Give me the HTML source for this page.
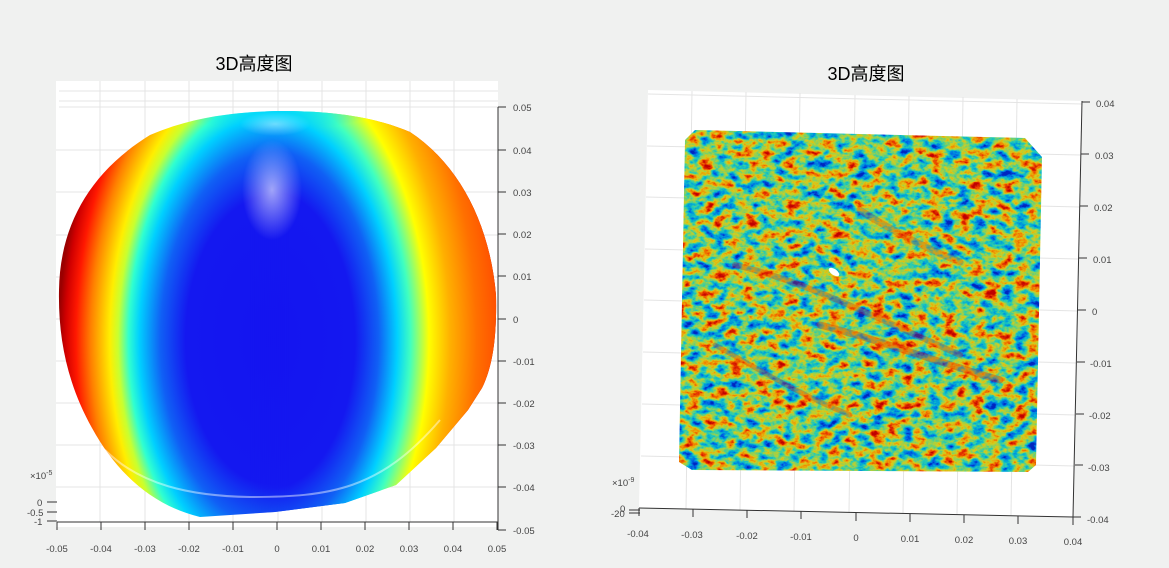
<!DOCTYPE html>
<html><head><meta charset="utf-8"><style>
html,body{margin:0;padding:0;background:#f0f1f0;width:1169px;height:568px;overflow:hidden}
svg{display:block}
text{font-family:"Liberation Sans","Noto Sans CJK SC",sans-serif;fill:#333}
.t{font-size:9.5px;fill:#444}
.title{font-size:18px;fill:#000}
</style></head><body>
<svg width="1169" height="568" viewBox="0 0 1169 568" xmlns="http://www.w3.org/2000/svg">
<defs>
<radialGradient id="gL" gradientUnits="userSpaceOnUse" cx="270" cy="340" r="211" gradientTransform="translate(270 340) scale(1 1.7) translate(-270 -340)">
<stop offset="0" stop-color="#1414f0"/>
<stop offset="0.4" stop-color="#1418f0"/>
<stop offset="0.52" stop-color="#1060f5"/>
<stop offset="0.62" stop-color="#00d0ff"/>
<stop offset="0.67" stop-color="#30ffd0"/>
<stop offset="0.72" stop-color="#c8ff30"/>
<stop offset="0.76" stop-color="#ffee00"/>
<stop offset="0.85" stop-color="#ff8000"/>
<stop offset="0.92" stop-color="#ff1800"/>
<stop offset="0.97" stop-color="#d00000"/>
<stop offset="1" stop-color="#9a0000"/>
</radialGradient>
<radialGradient id="gR" gradientUnits="userSpaceOnUse" cx="270" cy="340" r="265" gradientTransform="translate(270 340) scale(1 1.75) translate(-270 -340)">
<stop offset="0" stop-color="#1414f0"/>
<stop offset="0.32" stop-color="#1418f0"/>
<stop offset="0.41" stop-color="#1060f5"/>
<stop offset="0.48" stop-color="#00d0ff"/>
<stop offset="0.53" stop-color="#40ffc0"/>
<stop offset="0.6" stop-color="#ffff00"/>
<stop offset="0.68" stop-color="#ffb000"/>
<stop offset="0.78" stop-color="#ff7000"/>
<stop offset="0.86" stop-color="#ff5000"/>
<stop offset="1" stop-color="#ff3000"/>
</radialGradient>
<linearGradient id="fadeM" x1="0" y1="0" x2="1" y2="0">
<stop offset="0" stop-color="#fff" stop-opacity="0"/>
<stop offset="1" stop-color="#fff" stop-opacity="1"/>
</linearGradient>
<mask id="mR" maskUnits="userSpaceOnUse" x="0" y="0" width="600" height="600">
<rect x="250" y="100" width="40" height="430" fill="url(#fadeM)"/>
<rect x="290" y="100" width="220" height="430" fill="#fff"/>
</mask>
<radialGradient id="hl" cx="0.5" cy="0.5" r="0.5">
<stop offset="0" stop-color="#ffffff" stop-opacity="0.6"/>
<stop offset="1" stop-color="#ffffff" stop-opacity="0"/>
</radialGradient>
<radialGradient id="cy" cx="0.5" cy="0.5" r="0.5">
<stop offset="0" stop-color="#00d8ff" stop-opacity="0.8"/>
<stop offset="1" stop-color="#00d8ff" stop-opacity="0"/>
</radialGradient>
<filter id="noise" x="0" y="0" width="1" height="1" color-interpolation-filters="sRGB">
<feTurbulence type="fractalNoise" baseFrequency="0.07 0.1" numOctaves="4" seed="7"/>
<feColorMatrix type="matrix" values="1 0 0 0 0  1 0 0 0 0  1 0 0 0 0  0 0 0 0 1"/>
<feComponentTransfer><feFuncR type="linear" slope="1.6" intercept="-0.3"/><feFuncG type="linear" slope="1.6" intercept="-0.3"/><feFuncB type="linear" slope="1.6" intercept="-0.3"/></feComponentTransfer>
<feComponentTransfer>
<feFuncR type="table" tableValues="0 0 0 0.15 0.55 0.85 0.95 0.9 0.75"/>
<feFuncG type="table" tableValues="0.15 0.4 0.65 0.8 0.82 0.8 0.55 0.2 0"/>
<feFuncB type="table" tableValues="0.75 0.9 0.85 0.7 0.35 0.1 0 0 0"/>
</feComponentTransfer>
</filter>
<clipPath id="sq"><polygon points="685,140 695,130 1025,138 1042,157 1036,465 1028,472 692,470 679,462"/></clipPath>
<clipPath id="blob"><path d="M 59,290 C 60,225 90,172 150,135 C 190,118 230,112 280,111 C 330,111 372,116 410,132 C 460,165 490,225 496,295 C 497,340 492,368 482,388 L 468,410 L 436,448 L 396,485 L 345,503 L 275,512 L 200,517 C 150,505 115,470 92,428 C 68,385 58,340 59,290 Z"/></clipPath>
</defs>

<text class="title" x="254" y="70" text-anchor="middle">3D高度图</text>
<text class="title" x="866" y="80" text-anchor="middle">3D高度图</text>

<!-- LEFT PANEL -->
<rect x="56" y="81" width="442" height="446" fill="#fff"/>
<g stroke="#e4e4e4" stroke-width="1">
<line x1="59" y1="91" x2="498" y2="91"/><line x1="59" y1="101" x2="498" y2="101"/><line x1="59" y1="107" x2="498" y2="107"/>
<line x1="100" y1="81" x2="100" y2="522"/><line x1="145" y1="81" x2="145" y2="522"/><line x1="189" y1="81" x2="189" y2="522"/>
<line x1="233" y1="81" x2="233" y2="522"/><line x1="278" y1="81" x2="278" y2="522"/><line x1="322" y1="81" x2="322" y2="522"/>
<line x1="366" y1="81" x2="366" y2="522"/><line x1="410" y1="81" x2="410" y2="522"/><line x1="454" y1="81" x2="454" y2="522"/>
<line x1="56" y1="150" x2="498" y2="150"/><line x1="56" y1="192" x2="498" y2="192"/><line x1="56" y1="235" x2="498" y2="235"/>
<line x1="56" y1="277" x2="498" y2="277"/><line x1="56" y1="319" x2="498" y2="319"/><line x1="56" y1="361" x2="498" y2="361"/>
<line x1="56" y1="403" x2="498" y2="403"/><line x1="56" y1="445" x2="498" y2="445"/><line x1="56" y1="487" x2="498" y2="487"/>
</g>
<g clip-path="url(#blob)">
<rect x="55" y="105" width="445" height="420" fill="url(#gL)"/>
<rect x="55" y="105" width="445" height="420" fill="url(#gR)" mask="url(#mR)"/>
<ellipse cx="275" cy="112" rx="100" ry="18" fill="url(#cy)"/>
<ellipse cx="272" cy="190" rx="30" ry="50" fill="url(#hl)"/>
<ellipse cx="275" cy="124" rx="35" ry="12" fill="url(#hl)" opacity="0.7"/>
</g>
<path d="M 105,450 C 140,485 190,496 250,497 C 330,497 380,490 440,420" fill="none" stroke="#ffffff" stroke-opacity="0.45" stroke-width="2"/>
<g stroke="#333" stroke-width="1" fill="none">
<line x1="57" y1="522" x2="498" y2="522"/>
<line x1="498" y1="107" x2="498" y2="530"/>
<line x1="57" y1="522" x2="57" y2="530"/>
</g>
<g stroke="#333" stroke-width="1">
<line x1="101" y1="522" x2="101" y2="530"/><line x1="145" y1="522" x2="145" y2="530"/><line x1="189" y1="522" x2="189" y2="530"/>
<line x1="233" y1="522" x2="233" y2="530"/><line x1="277" y1="522" x2="277" y2="530"/><line x1="321" y1="522" x2="321" y2="530"/>
<line x1="365" y1="522" x2="365" y2="530"/><line x1="409" y1="522" x2="409" y2="530"/><line x1="453" y1="522" x2="453" y2="530"/>
<line x1="497" y1="522" x2="497" y2="530"/>
<line x1="498" y1="107" x2="506" y2="107"/><line x1="498" y1="150" x2="506" y2="150"/><line x1="498" y1="192" x2="506" y2="192"/>
<line x1="498" y1="234" x2="506" y2="234"/><line x1="498" y1="276" x2="506" y2="276"/><line x1="498" y1="319" x2="506" y2="319"/>
<line x1="498" y1="361" x2="506" y2="361"/><line x1="498" y1="403" x2="506" y2="403"/><line x1="498" y1="445" x2="506" y2="445"/>
<line x1="498" y1="487" x2="506" y2="487"/><line x1="498" y1="530" x2="506" y2="530"/>
<line x1="47" y1="502" x2="57" y2="502"/><line x1="47" y1="512" x2="57" y2="512"/><line x1="47" y1="521" x2="57" y2="521"/>
</g>
<g text-anchor="middle">
<text class="t" x="57" y="552">-0.05</text><text class="t" x="101" y="552">-0.04</text><text class="t" x="145" y="552">-0.03</text>
<text class="t" x="189" y="552">-0.02</text><text class="t" x="233" y="552">-0.01</text><text class="t" x="277" y="552">0</text>
<text class="t" x="321" y="552">0.01</text><text class="t" x="365" y="552">0.02</text><text class="t" x="409" y="552">0.03</text>
<text class="t" x="453" y="552">0.04</text><text class="t" x="497" y="552">0.05</text>
</g>
<g>
<text class="t" x="513" y="111">0.05</text><text class="t" x="513" y="154">0.04</text><text class="t" x="513" y="196">0.03</text>
<text class="t" x="513" y="238">0.02</text><text class="t" x="513" y="280">0.01</text><text class="t" x="513" y="323">0</text>
<text class="t" x="513" y="365">-0.01</text><text class="t" x="513" y="407">-0.02</text><text class="t" x="513" y="449">-0.03</text>
<text class="t" x="513" y="491">-0.04</text><text class="t" x="513" y="534">-0.05</text>
<text class="t" x="30" y="479">×10<tspan font-size="7" dy="-4">-5</tspan></text>
<text class="t" x="37" y="506">0</text><text class="t" x="27" y="516">-0.5</text><text class="t" x="34" y="525">-1</text>
</g>

<!-- RIGHT PANEL -->
<polygon points="648,90 1082,101 1073,517 639,508" fill="#fff"/>
<g stroke="#e4e4e4" stroke-width="1">
<line x1="648" y1="94" x2="1082" y2="104"/>
<line x1="692" y1="91" x2="686" y2="509"/><line x1="746" y1="92" x2="740" y2="510"/><line x1="800" y1="93" x2="794" y2="511"/>
<line x1="855" y1="95" x2="849" y2="512"/><line x1="909" y1="96" x2="903" y2="513"/><line x1="963" y1="97" x2="957" y2="514"/>
<line x1="1017" y1="99" x2="1011" y2="515"/>
<line x1="647" y1="146" x2="1081" y2="155"/><line x1="646" y1="197" x2="1080" y2="207"/><line x1="645" y1="249" x2="1079" y2="259"/>
<line x1="644" y1="300" x2="1078" y2="311"/><line x1="643" y1="352" x2="1077" y2="363"/><line x1="642" y1="404" x2="1076" y2="415"/>
<line x1="641" y1="456" x2="1075" y2="466"/>
</g>
<g clip-path="url(#sq)">
<rect x="670" y="125" width="380" height="352" filter="url(#noise)"/>
<g fill="none" stroke-linecap="round">
<path d="M 735,265 C 800,280 860,310 960,355" stroke="#e02000" stroke-width="6" opacity="0.3"/>
<path d="M 820,325 C 880,340 930,360 1000,380" stroke="#e02000" stroke-width="7" opacity="0.35"/>
<path d="M 715,345 C 760,370 800,395 850,415" stroke="#e02000" stroke-width="5" opacity="0.3"/>
<path d="M 860,210 C 890,230 930,250 960,262" stroke="#e02000" stroke-width="7" opacity="0.25"/>
</g>
<ellipse cx="834" cy="272" rx="6" ry="3" fill="#fff" transform="rotate(35 834 272)"/>
</g>
<g stroke="#333" stroke-width="1">
<line x1="639" y1="508" x2="1073" y2="517"/>
<line x1="1082" y1="101" x2="1073" y2="517"/>
<line x1="639" y1="508" x2="639" y2="516"/><line x1="693" y1="509" x2="693" y2="517"/><line x1="747" y1="510" x2="747" y2="518"/>
<line x1="801" y1="511" x2="801" y2="519"/><line x1="856" y1="513" x2="856" y2="521"/><line x1="910" y1="514" x2="910" y2="522"/>
<line x1="964" y1="515" x2="964" y2="523"/><line x1="1018" y1="516" x2="1018" y2="524"/><line x1="1073" y1="517" x2="1073" y2="525"/>
<line x1="1082" y1="102" x2="1090" y2="102"/><line x1="1081" y1="154" x2="1089" y2="154"/><line x1="1080" y1="206" x2="1088" y2="206"/>
<line x1="1079" y1="258" x2="1087" y2="258"/><line x1="1078" y1="310" x2="1086" y2="310"/><line x1="1077" y1="362" x2="1085" y2="362"/>
<line x1="1076" y1="414" x2="1084" y2="414"/><line x1="1075" y1="465" x2="1083" y2="465"/><line x1="1073" y1="517" x2="1081" y2="517"/>
<line x1="629" y1="510" x2="640" y2="510"/><line x1="629" y1="513" x2="640" y2="513"/>
</g>
<g>
<text class="t" x="638" y="537" text-anchor="middle">-0.04</text><text class="t" x="692" y="538" text-anchor="middle">-0.03</text>
<text class="t" x="747" y="539" text-anchor="middle">-0.02</text><text class="t" x="801" y="540" text-anchor="middle">-0.01</text>
<text class="t" x="856" y="541" text-anchor="middle">0</text><text class="t" x="910" y="542" text-anchor="middle">0.01</text>
<text class="t" x="964" y="543" text-anchor="middle">0.02</text><text class="t" x="1018" y="544" text-anchor="middle">0.03</text>
<text class="t" x="1073" y="545" text-anchor="middle">0.04</text>
<text class="t" x="1096" y="107">0.04</text><text class="t" x="1095" y="159">0.03</text><text class="t" x="1094" y="211">0.02</text>
<text class="t" x="1093" y="263">0.01</text><text class="t" x="1092" y="315">0</text><text class="t" x="1090" y="367">-0.01</text>
<text class="t" x="1089" y="419">-0.02</text><text class="t" x="1088" y="471">-0.03</text><text class="t" x="1087" y="523">-0.04</text>
<text class="t" x="612" y="486">×10<tspan font-size="7" dy="-4">-9</tspan></text>
<text class="t" x="620" y="512">0</text><text class="t" x="611" y="517">-20</text>
</g>
</svg>
</body></html>
